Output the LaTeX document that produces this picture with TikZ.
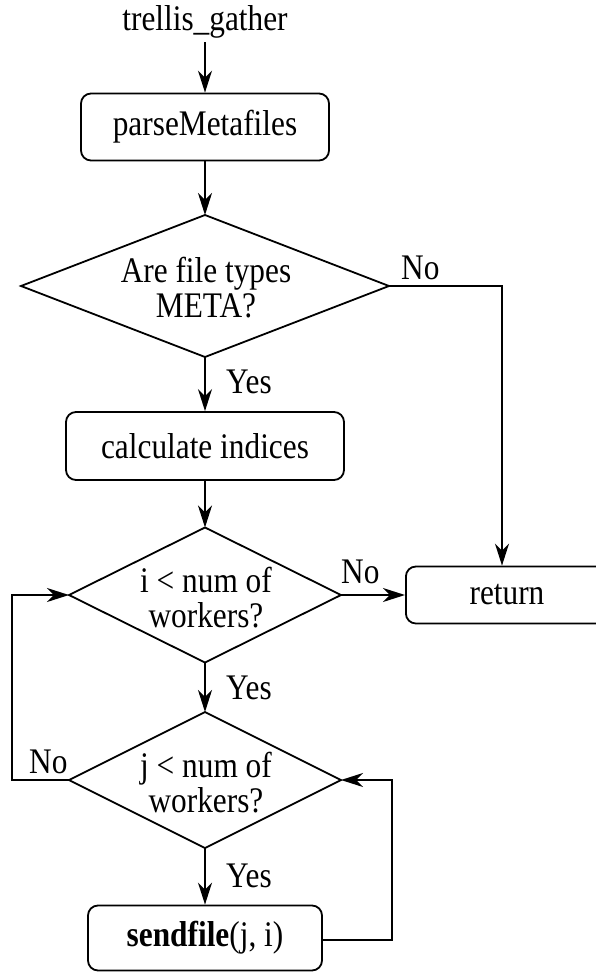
\documentclass[tikz,border=0pt]{standalone}
\usepackage{fontspec}
\setmainfont[FakeStretch=0.87]{Liberation Serif}
\usetikzlibrary{arrows.meta,shapes.geometric}
\begin{document}
\begin{tikzpicture}[x=1pt,y=-1pt,
  every node/.style={font=\fontsize{36}{35}\selectfont},
  arr/.style={-{Stealth[length=22pt,width=14pt,inset=7pt]}, line width=1.8pt},
  procbox/.style={draw, line width=1.8pt, rounded corners=10pt, inner sep=0pt},
  diam/.style={draw, diamond, line width=1.8pt, inner sep=0pt, outer sep=0pt},
  lbl/.style={inner sep=0pt}]
\useasboundingbox (0,0) rectangle (595,977);
\node[lbl] (start) at (205,22) {trellis\_gather};
\node[procbox, minimum width=248pt, minimum height=67pt] (pm) at (205,127) {parseMetafiles};
\node[diam, minimum width=368pt, minimum height=142pt] (d1) at (205,286) {};
\node[lbl, align=center] (t1) at (206,288) {Are file types\\META?};
\node[procbox, minimum width=278pt, minimum height=68pt] (ci) at (205,446) {calculate indices};
\node[diam, minimum width=272pt, minimum height=135pt] (d2) at (205,595) {};
\node[lbl, align=center] (t2) at (206,598) {i < num of\\workers?};
\node[diam, minimum width=272pt, minimum height=136pt] (d3) at (205,780) {};
\node[lbl, align=center] (t3) at (206,783) {j < num of\\workers?};
\node[procbox, minimum width=230pt, minimum height=57pt, anchor=west] (ret) at (405,595) {};
\node[lbl] (rt) at (507,595) {return};
\node[procbox, minimum width=234pt, minimum height=65pt] (sf) at (205,938) {\textbf{sendfile}(j, i)};
% labels
\node[lbl, anchor=west] (y1) at (226,382) {Yes};
\node[lbl, anchor=west] (y2) at (226,688) {Yes};
\node[lbl, anchor=west] (y3) at (226,876) {Yes};
\node[lbl, anchor=west] (n1) at (401,268) {No};
\node[lbl, anchor=west] (n2) at (341,572) {No};
\node[lbl, anchor=west] (n3) at (29,762) {No};
% connectors
\coordinate (s0) at (205,42);
\draw[arr] (s0) -- (pm.north);
\draw[arr] (pm.south) -- (d1.north);
\draw[arr] (d1.south) -- (ci.north);
\draw[arr] (ci.south) -- (d2.north);
\draw[arr] (d2.south) -- (d3.north);
\draw[arr] (d3.south) -- (sf.north);
\draw[arr] (d2.east) -- (ret.west);
\coordinate (c1) at (502,286);
\draw[arr] (d1.east) -- (c1) -- (c1 |- ret.north);
\coordinate (c2) at (12,780);
\draw[arr] (d3.west) -- (c2) -- (c2 |- d2.west) -- (d2.west);
\coordinate (c3) at (392,940);
\draw[arr] (sf.east |- c3) -- (c3) -- (c3 |- d3.east) -- (d3.east);
\end{tikzpicture}
\end{document}
